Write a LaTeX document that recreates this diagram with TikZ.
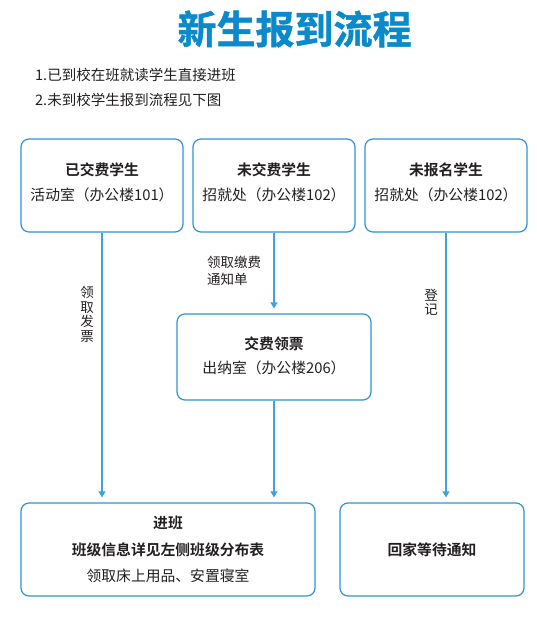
\documentclass[tikz,border=0pt]{standalone}
\usepackage{fontspec}
\setmainfont{Noto Sans CJK SC}
\newfontfamily\cjkbold{Noto Sans CJK SC Bold}
\newfontfamily\cjktitle[FakeBold=1.2]{Noto Sans CJK SC Bold}
\usetikzlibrary{arrows.meta}
\definecolor{titleblue}{HTML}{0A8ACB}
\definecolor{boxblue}{HTML}{2E93D1}
\definecolor{lineblue}{HTML}{3FA2DB}
\definecolor{txt}{HTML}{231F20}
\tikzset{
  stagebox/.style={draw=boxblue, line width=1.2pt, rounded corners=8pt, inner sep=0pt},
  head/.style={font=\cjkbold\fontsize{14.8}{17}\selectfont, text=txt, inner sep=0pt},
  body/.style={font=\fontsize{14.8}{17}\selectfont, text=txt, inner sep=0pt},
  lab/.style={font=\fontsize{13.5}{17}\selectfont, text=txt, inner sep=0pt, align=left},
  vlab/.style={font=\fontsize{13.5}{14.5}\selectfont, text=txt, inner sep=0pt, align=center},
  flow/.style={draw=lineblue, line width=1.3pt, -{Triangle[length=6pt,width=7pt]}, shorten >=5pt}
}
\begin{document}
\begin{tikzpicture}[x=1pt,y=-1pt]
\useasboundingbox (0,0) rectangle (537,626);
% title
\node[font=\cjktitle\fontsize{39}{42}\selectfont, text=titleblue, inner sep=0pt] (title) at (294.5,29) {新生报到流程};
\node[font=\fontsize{14.5}{16}\selectfont, text=txt, inner sep=0pt, anchor=west] (n1) at (35,75) {1.已到校在班就读学生直接进班};
\node[font=\fontsize{14.5}{16}\selectfont, text=txt, inner sep=0pt, anchor=west] (n2) at (35,100) {2.未到校学生报到流程见下图};
% top boxes
\node[stagebox, minimum width=162pt, minimum height=93pt] (b1) at (102,185.5) {};
\node[stagebox, minimum width=162pt, minimum height=93pt] (b2) at (274,185.5) {};
\node[stagebox, minimum width=162pt, minimum height=93pt] (b3) at (446,185.5) {};
\node[head] (b1h) at (102,170) {已交费学生};
\node[body] (b1t) at (102,195) {活动室（办公楼101）};
\node[head] (b2h) at (274,170) {未交费学生};
\node[body] (b2t) at (274,195) {招就处（办公楼102）};
\node[head] (b3h) at (446,170) {未报名学生};
\node[body] (b3t) at (446,195) {招就处（办公楼102）};
% middle box
\node[stagebox, minimum width=194pt, minimum height=86pt] (m) at (274,357) {};
\node[head] (mh) at (274,344) {交费领票};
\node[body] (mt) at (274,368) {出纳室（办公楼206）};
% bottom boxes
\node[stagebox, minimum width=294pt, minimum height=93pt] (bl) at (168,549.5) {};
\node[stagebox, minimum width=184pt, minimum height=93pt] (br) at (432,549.5) {};
\node[head] (blh) at (168,523) {进班};
\node[head] (blm) at (168,550) {班级信息详见左侧班级分布表};
\node[body] (blt) at (168,576) {领取床上用品、安置寝室};
\node[head] (brh) at (432,550) {回家等待通知};
% connectors
\draw[flow] (b1.south) -- (b1.south |- bl.north);
\draw[flow] (b2.south) -- (m.north);
\draw[flow] (m.south) -- (m.south |- bl.north);
\draw[flow] (b3.south) -- (b3.south |- br.north);
% labels
\node[lab, anchor=west] (l2) at (207,271) {领取缴费\\通知单};
\node[vlab] (l1) at (87,314.5) {领\\取\\发\\票};
\node[vlab] (l3) at (431,302.5) {登\\记};
\end{tikzpicture}
\end{document}
